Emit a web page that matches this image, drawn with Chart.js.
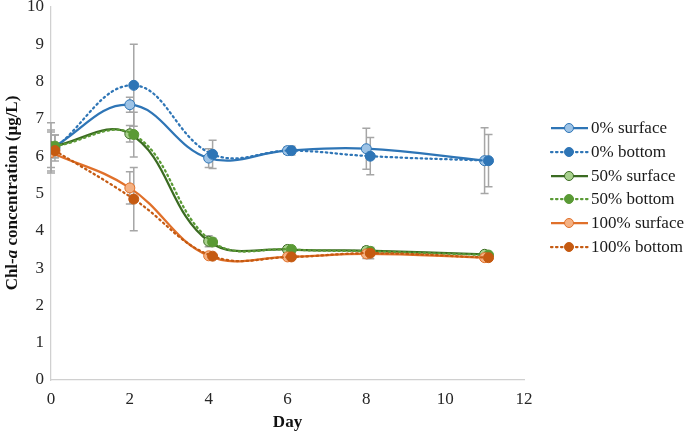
<!DOCTYPE html>
<html>
<head>
<meta charset="utf-8">
<script src="https://cdn.jsdelivr.net/npm/chart.js@4.4.1/dist/chart.umd.min.js"></script>
<style>
  html, body { margin: 0; padding: 0; background: #fff; }
  #wrap { width: 685px; height: 433px; }
</style>
</head>
<body>
<div id="wrap"><canvas id="chlChart" width="685" height="433"></canvas></div>
<script>
// sampling days (bottom samples sit slightly to the right, as in the original)
const surfaceDays = [0, 2, 4, 6, 8, 11];
const bottomDays = [0.1, 2.1, 4.1, 6.1, 8.1, 11.1];

// Chl-a means (µg/L)
const surface0 = [6.2, 7.38, 5.95, 6.15, 6.2, 5.88];
const bottom0 = [6.22, 7.9, 6.05, 6.15, 6.0, 5.88];
const surface50 = [6.25, 6.6, 3.72, 3.5, 3.47, 3.37];
const bottom50 = [6.27, 6.58, 3.7, 3.5, 3.45, 3.35];
const surface100 = [6.1, 5.15, 3.33, 3.3, 3.38, 3.28];
const bottom100 = [6.15, 4.85, 3.32, 3.3, 3.4, 3.28];

// standard deviations
const surface0Err = [0.5, 0.2, 0.25, 0.1, 0.55, 0.88];
const bottom0Err = [0.35, 1.1, 0.38, 0.12, 0.5, 0.7];
const surface50Err = [0.65, 0.22, 0.15, 0.08, 0.1, 0.05];
const bottom50Err = [0.3, 0.6, 0.1, 0.08, 0.1, 0.05];
const surface100Err = [0.55, 0.43, 0.05, 0.05, 0.12, 0.05];
const bottom100Err = [0.2, 0.85, 0.05, 0.05, 0.15, 0.05];

const xTicks = [0, 2, 4, 6, 8, 10, 12];
const yTicks = [0, 1, 2, 3, 4, 5, 6, 7, 8, 9, 10];

const seriesLabels = ["0% surface", "0% bottom", "50% surface", "50% bottom", "100% surface", "100% bottom"];

function pts(xs, ys) {
    return xs.map((x, i) => ({ x: x, y: ys[i] }));
}

function makeSet(idx, xs, ys, errs, line, fill, dotted) {
    return {
        label: seriesLabels[idx],
        data: pts(xs, ys),
        errors: errs,
        order: 5 - idx, // later series drawn on top, like Excel
        borderColor: line,
        backgroundColor: fill,
        pointBackgroundColor: fill,
        pointBorderColor: line,
        pointBorderWidth: 1,
        pointRadius: 5,
        borderWidth: 2.25,
        borderDash: dotted ? [1.5, 3.5] : [],
        borderCapStyle: dotted ? "round" : "butt",
        tension: 0.4
    };
}

const datasets = [
    makeSet(0, surfaceDays, surface0, surface0Err, "#2E75B6", "#9DC3E6", false),
    makeSet(1, bottomDays, bottom0, bottom0Err, "#2E75B6", "#2E75B6", true),
    makeSet(2, surfaceDays, surface50, surface50Err, "#3B6B22", "#A9D18E", false),
    makeSet(3, bottomDays, bottom50, bottom50Err, "#5A9A35", "#5A9A35", true),
    makeSet(4, surfaceDays, surface100, surface100Err, "#E0702A", "#F4B183", false),
    makeSet(5, bottomDays, bottom100, bottom100Err, "#C55A11", "#C55A11", true)
];

// error bars drawn through the chart scales
const errorBars = {
    id: "errorBars",
    beforeDatasetsDraw(chart) {
        const ctx = chart.ctx;
        const xs = chart.scales.x, ys = chart.scales.y;
        ctx.save();
        ctx.strokeStyle = "#A6A6A6";
        ctx.lineWidth = 1.5;
        chart.data.datasets.forEach(ds => {
            ds.data.forEach((p, i) => {
                const e = ds.errors[i];
                const px = xs.getPixelForValue(p.x);
                const top = ys.getPixelForValue(p.y + e);
                const bot = ys.getPixelForValue(p.y - e);
                ctx.beginPath();
                ctx.moveTo(px, top); ctx.lineTo(px, bot);
                ctx.moveTo(px - 4, top); ctx.lineTo(px + 4, top);
                ctx.moveTo(px - 4, bot); ctx.lineTo(px + 4, bot);
                ctx.stroke();
            });
        });
        ctx.restore();
    }
};

// legend on the right, plus the y title with italic "a"
const extras = {
    id: "extras",
    afterDraw(chart) {
        const ctx = chart.ctx;
        ctx.save();
        const rowY = [128, 152, 176, 199, 223, 247];
        chart.data.datasets.forEach((ds, i) => {
            const y = rowY[i];
            ctx.beginPath();
            ctx.strokeStyle = ds.borderColor;
            ctx.lineWidth = 2.25;
            ctx.setLineDash(ds.borderDash);
            ctx.lineCap = ds.borderCapStyle;
            ctx.moveTo(551, y); ctx.lineTo(588, y);
            ctx.stroke();
            ctx.setLineDash([]);
            ctx.beginPath();
            ctx.arc(569, y, 4.5, 0, Math.PI * 2);
            ctx.fillStyle = ds.pointBackgroundColor;
            ctx.fill();
            ctx.lineWidth = 1;
            ctx.strokeStyle = ds.pointBorderColor;
            ctx.stroke();
            ctx.fillStyle = "#1a1a1a";
            ctx.font = "17px 'Liberation Serif'";
            ctx.textBaseline = "middle";
            ctx.textAlign = "left";
            ctx.fillText(ds.label, 591, y + 1);
        });

        // y axis title
        ctx.translate(13, 193);
        ctx.rotate(-Math.PI / 2);
        ctx.fillStyle = "#111";
        ctx.textBaseline = "middle";
        const parts = [
            ["Chl-", "bold 17px 'Liberation Serif'"],
            ["a", "bold italic 17px 'Liberation Serif'"],
            [" concentration (\u03bcg/L)", "bold 17px 'Liberation Serif'"]
        ];
        let total = 0;
        parts.forEach(p => { ctx.font = p[1]; total += ctx.measureText(p[0]).width; });
        let x = -total / 2;
        ctx.textAlign = "left";
        parts.forEach(p => { ctx.font = p[1]; ctx.fillText(p[0], x, 0); x += ctx.measureText(p[0]).width; });
        ctx.restore();
    }
};

const ctx = document.getElementById("chlChart").getContext("2d");
new Chart(ctx, {
    type: "line",
    data: { datasets: datasets },
    options: {
        responsive: false,
        animation: false,
        layout: { padding: { top: 7, right: 161, left: 0, bottom: 0 } },
        plugins: {
            legend: { display: false },
            tooltip: { enabled: false }
        },
        scales: {
            x: {
                type: "linear",
                min: 0,
                max: 12,
                afterBuildTicks: s => { s.ticks = xTicks.map(v => ({ value: v })); },
                grid: { display: false, drawTicks: false },
                border: { color: "#D0D0D0", width: 1.25 },
                ticks: { color: "#262626", padding: 9, font: { family: "Liberation Serif", size: 17 } },
                title: {
                    display: true,
                    text: "Day",
                    color: "#111",
                    padding: { top: 3, bottom: 0 },
                    font: { family: "Liberation Serif", size: 17, weight: "bold" }
                },
                afterFit: s => { s.height = 53; s.paddingLeft = 0; s.paddingRight = 0; }
            },
            y: {
                min: 0,
                max: 10,
                afterBuildTicks: s => { s.ticks = yTicks.map(v => ({ value: v })); },
                grid: { display: false, drawTicks: false },
                border: { color: "#D0D0D0", width: 1.25 },
                ticks: { color: "#262626", padding: 7, font: { family: "Liberation Serif", size: 17 } },
                afterFit: s => { s.width = 51; s.paddingTop = 0; s.paddingBottom = 0; }
            }
        }
    },
    plugins: [errorBars, extras]
});
</script>
</body>
</html>
